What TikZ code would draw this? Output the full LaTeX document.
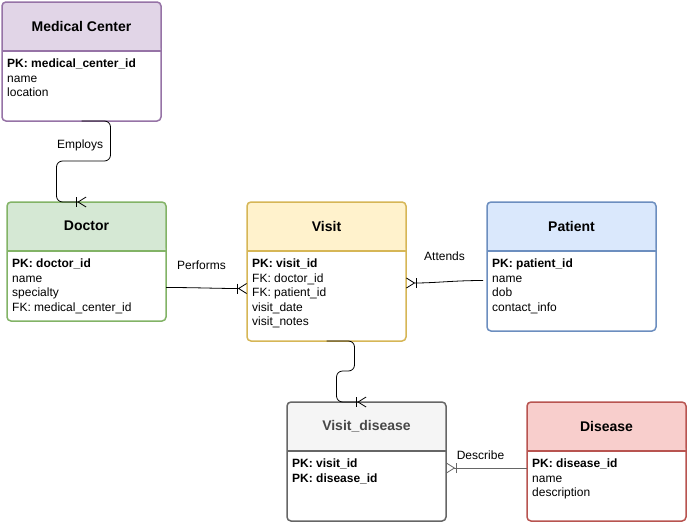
\documentclass[tikz,border=0pt]{standalone}
\usepackage{fontspec}
\setmainfont{Liberation Sans}
\usetikzlibrary{arrows.meta,positioning}

% header fills and border colours
\definecolor{mcfill}{HTML}{E1D5E7}\definecolor{mcline}{HTML}{9673A6}
\definecolor{drfill}{HTML}{D5E8D4}\definecolor{drline}{HTML}{82B366}
\definecolor{vsfill}{HTML}{FFF2CC}\definecolor{vsline}{HTML}{D6B656}
\definecolor{ptfill}{HTML}{DAE8FC}\definecolor{ptline}{HTML}{6C8EBF}
\definecolor{vdfill}{HTML}{F5F5F5}\definecolor{vdline}{HTML}{666666}
\definecolor{dsfill}{HTML}{F8CECC}\definecolor{dsline}{HTML}{B85450}

\begin{document}
\begin{tikzpicture}[x=1pt, y=-1pt,
    tbl/.style 2 args={draw=#2, fill=white, line width=1.5pt, rounded corners=4pt,
        inner sep=0pt, outer sep=0pt, anchor=north west, minimum width=159,
        path picture={\fill[#1] (path picture bounding box.north west) rectangle ([yshift=-49pt]path picture bounding box.north east);
            \draw[#2, line width=1.5pt] ([yshift=-49pt]path picture bounding box.north west) -- ([yshift=-49pt]path picture bounding box.north east);}},
    title/.style={font=\fontsize{14}{16}\selectfont\bfseries, inner sep=0pt},
    fields/.style={font=\fontsize{12}{14.5}\selectfont, align=left, anchor=north west, inner sep=0pt},
    rel/.style={line width=0.8pt, rounded corners=6pt},
    crow/.style={-{Bar[width=10pt, sep=0.5pt] Straight Barb[reversed, length=8pt, width=10pt]}},
    lbl/.style={font=\fontsize{12}{14}\selectfont, inner sep=0pt}]
    \useasboundingbox[fill=white] (0,0) rectangle (687,522);

    % entities
    \node[tbl={mcfill}{mcline}, minimum height=119] (medcenter) at (2,2) {};
    \node[title] at ([yshift=-24pt]medcenter.north) {Medical Center};
    \node[fields] at ([xshift=5pt, yshift=-57pt]medcenter.north west) {\textbf{PK: medical\_center\_id}\\name\\location};

    \node[tbl={drfill}{drline}, minimum height=119] (doctor) at (7,202) {};
    \node[title] at ([yshift=-24pt]doctor.north) {Doctor};
    \node[fields] at ([xshift=5pt, yshift=-57pt]doctor.north west) {\textbf{PK: doctor\_id}\\name\\specialty\\FK: medical\_center\_id};

    \node[tbl={vsfill}{vsline}, minimum height=139] (visit) at (247,202) {};
    \node[title] at ([yshift=-24pt]visit.north) {Visit};
    \node[fields] at ([xshift=5pt, yshift=-57pt]visit.north west) {\textbf{PK: visit\_id}\\FK: doctor\_id\\FK: patient\_id\\visit\_date\\visit\_notes};

    \node[tbl={ptfill}{ptline}, minimum width=169, minimum height=129] (patient) at (487,202) {};
    \node[title] at ([yshift=-24pt]patient.north) {Patient};
    \node[fields] at ([xshift=5pt, yshift=-57pt]patient.north west) {\textbf{PK: patient\_id}\\name\\dob\\contact\_info};

    \node[tbl={vdfill}{vdline}, minimum height=119] (visitdisease) at (287,402) {};
    \node[title, text=vdline!70!black] at ([yshift=-24pt]visitdisease.north) {Visit\_disease};
    \node[fields] at ([xshift=5pt, yshift=-57pt]visitdisease.north west) {\textbf{PK: visit\_id}\\\textbf{PK: disease\_id}};

    \node[tbl={dsfill}{dsline}, minimum height=119] (disease) at (527,402) {};
    \node[title] at ([yshift=-24pt]disease.north) {Disease};
    \node[fields] at ([xshift=5pt, yshift=-57pt]disease.north west) {\textbf{PK: disease\_id}\\name\\description};

    % relationships
    \draw[rel, crow] (medcenter.south) -- ++(29,0) -- node[lbl, left=7pt, yshift=-4pt] {Employs} ++(0,40) -| ([xshift=-30pt]doctor.north) -- (doctor.north);
    \draw[line width=0.8pt, crow] ([yshift=-26pt]doctor.east) to[out=0, in=180] node[lbl, above=18pt, xshift=-5pt] {Performs} ([yshift=-17pt]visit.west);
    \draw[line width=0.8pt, crow] ([xshift=-4pt, yshift=-14pt]patient.west) to[out=180, in=0] node[lbl, above=21pt] {Attends} ([yshift=-11.5pt]visit.east);
    \draw[rel, crow] (visit.south) -- ++(28,0) -- ++(0,30) -| ([xshift=-30pt]visitdisease.north) -- (visitdisease.north);
    \draw[line width=0.8pt, vdline, crow] ([yshift=-6.5pt]disease.west) -- node[lbl, black, above=8pt, xshift=-6pt] {Describe} ([yshift=-6.5pt]visitdisease.east);
\end{tikzpicture}
\end{document}
